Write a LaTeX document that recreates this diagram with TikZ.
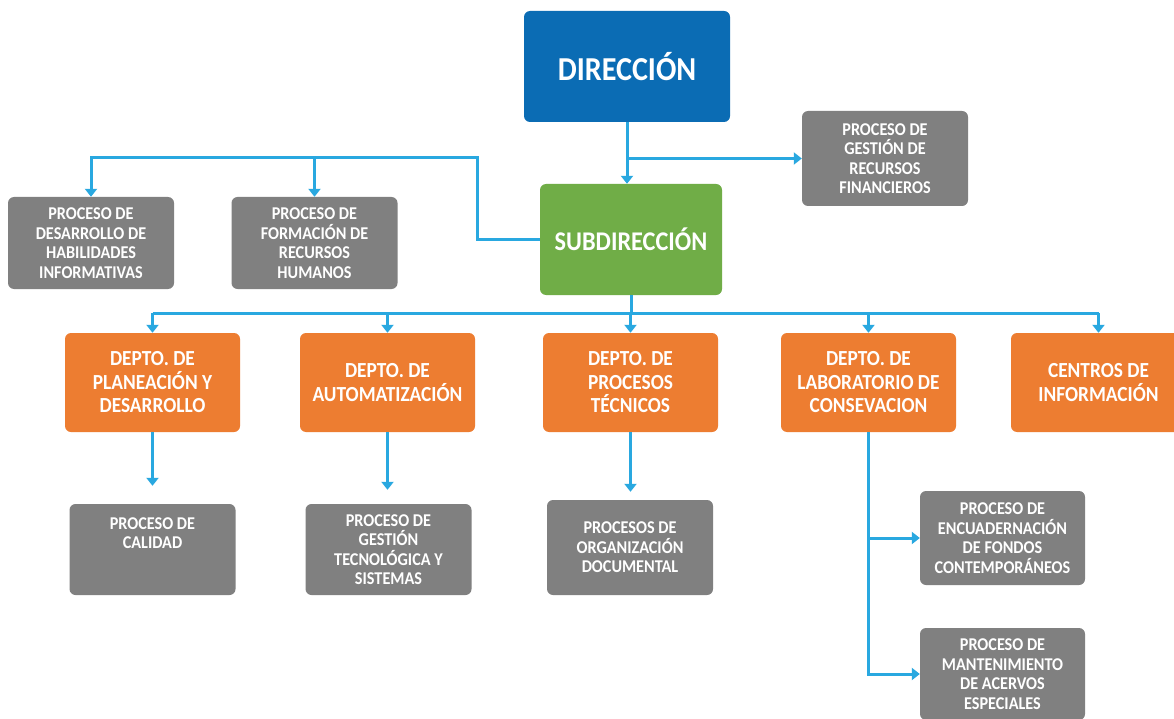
\documentclass[tikz,border=0pt]{standalone}
\usepackage{fontspec}
\setmainfont{Carlito}[FakeStretch=0.9]
\usepackage{tikz}
\usetikzlibrary{positioning, arrows.meta, shapes}
\definecolor{azul}{RGB}{11, 108, 180}
\definecolor{verde}{RGB}{112, 173, 71}
\definecolor{naranja}{RGB}{237, 125, 49}
\definecolor{gris}{RGB}{128, 128, 128}
\definecolor{celeste}{RGB}{41, 168, 224}
\tikzset{
    caja/.style={rectangle, rounded corners=6pt, text=white, align=center, inner sep=0pt},
    jefe/.style={caja, fill=azul, minimum width=206pt, minimum height=111pt, font=\bfseries\fontsize{33.5}{40}\selectfont},
    sub/.style={caja, fill=verde, minimum width=182pt, minimum height=111pt, font=\bfseries\fontsize{27}{30}\selectfont},
    depto/.style={caja, fill=naranja, minimum width=175pt, minimum height=99pt, font=\bfseries\fontsize{21.5}{23.5}\selectfont},
    proc/.style={caja, fill=gris, minimum width=166pt, minimum height=92pt, font=\bfseries\fontsize{18}{19.5}\selectfont},
    conn/.style={-, celeste, line width=3pt},
    flecha/.style={conn, -{Triangle[width=12pt, length=8pt]}},
}
\begin{document}
\begin{tikzpicture}[x=1pt, y=-1pt]
    \path[use as bounding box, fill=white] (0,0) rectangle (1174,719);
    \clip (0,0) rectangle (1174,719);

    % niveles superiores
    \node [jefe] (dir) at (627,66.5) {DIRECCIÓN};
    \node [sub] (subd) at (631,239.5) {SUBDIRECCIÓN};
    \node [proc, minimum height=95pt] (fin) at (885,158.5) {PROCESO DE\\GESTIÓN DE\\RECURSOS\\FINANCIEROS};
    \node [proc] (hab) at (91,243) {PROCESO DE\\DESARROLLO DE\\HABILIDADES\\INFORMATIVAS};
    \node [proc] (rrhh) at (314.5,243) {PROCESO DE\\FORMACIÓN DE\\RECURSOS\\HUMANOS};

    % departamentos
    \node [depto] (d1) at (152.5,382.5) {DEPTO. DE\\PLANEACIÓN Y\\DESARROLLO};
    \node [depto] (d2) at (387.5,382.5) {DEPTO. DE\\AUTOMATIZACIÓN};
    \node [depto] (d3) at (630.5,382.5) {DEPTO. DE\\PROCESOS\\TÉCNICOS};
    \node [depto] (d4) at (868.5,382.5) {DEPTO. DE\\LABORATORIO DE\\CONSEVACION};
    \node [depto] (d5) at (1098.5,382.5) {CENTROS DE\\INFORMACIÓN};

    % procesos de abajo
    \node [proc, minimum height=91pt] (cal) at (152.5,549.5) {PROCESO DE\\CALIDAD\\[13pt]~};
    \node [proc, minimum height=91pt] (tec) at (388.5,549.5) {PROCESO DE\\GESTIÓN\\TECNOLÓGICA Y\\SISTEMAS};
    \node [proc, minimum height=95pt] (doc) at (630,547.5) {PROCESOS DE\\ORGANIZACIÓN\\DOCUMENTAL};
    \node [proc, minimum height=94pt, minimum width=165pt] (enc) at (1002.5,538) {PROCESO DE\\ENCUADERNACIÓN\\DE FONDOS\\CONTEMPORÁNEOS};
    \node [proc, minimum width=165pt] (man) at (1002.5,674) {PROCESO DE\\MANTENIMIENTO\\DE ACERVOS\\ESPECIALES};

    \coordinate (bus1) at (477,158);
    \coordinate (bus2) at (631,313);

    \draw[flecha] (dir.south) -- (dir.south |- subd.north);
    \draw[flecha] (dir.south |- fin.west) -- (fin.west);
    \draw[flecha] (subd.west) -| (bus1) -| (hab.north);
    \draw[flecha] (rrhh.north |- bus1) -- (rrhh.north);

    \draw[conn] (subd.south) -- (bus2);
    \draw[conn] (d1.north |- bus2) -- (d5.north |- bus2);
    \foreach \d in {d1,d2,d3,d4,d5}
        \draw[flecha] (\d.north |- bus2) -- (\d.north);

    \draw[flecha, shorten >=18pt] (d1) -- (cal);
    \draw[flecha, shorten >=14pt] (d2) -- (d2 |- tec.north);
    \draw[flecha, shorten >=8pt] (d3) -- (d3 |- doc.north);
    \draw[flecha] (d4.south) |- (man.west);
    \draw[flecha] (d4.south |- enc.west) -- (enc.west);
\end{tikzpicture}
\end{document}
